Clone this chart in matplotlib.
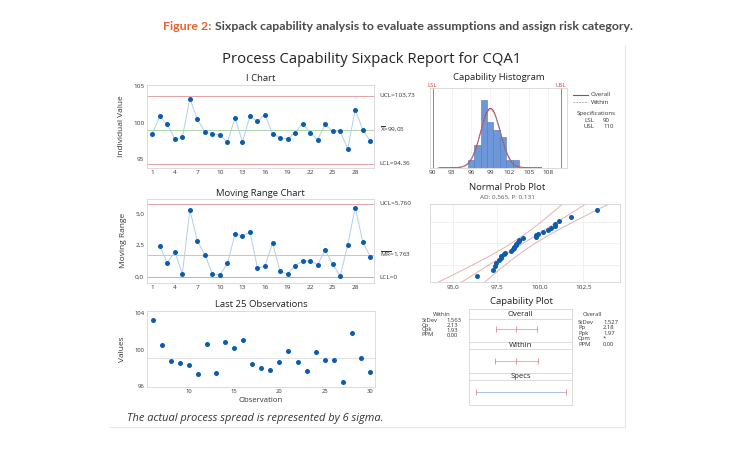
import numpy as np
import matplotlib
matplotlib.use("Agg")
import matplotlib.pyplot as plt
from matplotlib.lines import Line2D
from matplotlib.ticker import FuncFormatter, FixedLocator
from statistics import NormalDist

# ---------------- data ----------------
observations = list(range(1, 31))
individual_values = [98.49, 100.87, 99.77, 97.75, 97.98, 103.30, 100.46, 98.72, 98.49, 98.30,
                     97.29, 100.64, 97.39, 100.87, 100.18, 101.10, 98.44, 97.94, 97.75, 98.62,
                     99.86, 98.62, 97.66, 99.77, 98.81, 98.81, 96.38, 101.79, 99.04, 97.48]
mr_index = list(range(2, 31))
moving_ranges = [2.40, 1.12, 2.00, 0.26, 5.26, 2.84, 1.77, 0.26, 0.18, 1.07,
                 3.36, 3.26, 3.52, 0.70, 0.86, 2.68, 0.47, 0.26, 0.89, 1.28,
                 1.28, 0.96, 2.14, 1.02, 0.08, 2.50, 5.44, 2.79, 1.61]
i_center, i_ucl, i_lcl = 99.05, 103.73, 94.36
i_labels = ["UCL=103,73", r"$\overline{\mathrm{X}}$=99,05", "LCL=94,36"]
mr_center, mr_ucl, mr_lcl = 1.763, 5.760, 0.0
mr_labels = ["UCL=5,760", r"$\overline{\mathrm{MR}}$=1,763", "LCL=0"]
i_xticks = [1, 4, 7, 10, 13, 16, 19, 22, 25, 28]
last25_xticks = [10, 15, 20, 25, 30]
hist_edges = [95.5, 96.5, 97.5, 98.5, 99.5, 100.5, 101.5, 102.5, 103.5]
hist_counts = [1, 3, 9, 6, 5, 4, 1, 1]
hist_xticks = [90, 93, 96, 99, 102, 105, 108]
lsl, usl = 90, 110
sd_within, sd_overall = 1.563, 1.527
n_obs = 30
within_stats = [("StDev", "1,563"), ("Cp", "2,13"), ("Cpk", "1,93"), ("PPM", "0,00")]
overall_stats = [("StDev", "1,527"), ("Pp", "2,18"), ("Ppk", "1,97"), ("Cpm", "*"), ("PPM", "0,00")]
ad_text = "AD: 0,565, P: 0,131"
prob_xticks = [95.0, 97.5, 100.0, 102.5]
prob_grid_pct = [1, 10, 50, 90, 99]

# ---------------- style ----------------
W, H = 750, 450
FONT = "Open Sans"
plt.rcParams["font.family"] = [FONT, "DejaVu Sans"]
plt.rcParams["mathtext.fontset"] = "custom"
plt.rcParams["mathtext.rm"] = FONT
plt.rcParams["mathtext.it"] = FONT + ":italic"
plt.rcParams["mathtext.bf"] = FONT + ":bold"
BLUE = "#0b5cad"
LBLUE = "#b3cde8"
RED = "#e2a3a3"
GREEN = "#acd6ac"
SPINE = "#d6d6d6"
TXT = "#333333"

fig = plt.figure(figsize=(7.5, 4.5), dpi=100)
fig.patch.set_facecolor("white")


def axes_at(x0, y0, x1, y1):
    return fig.add_axes([x0 / W, 1 - y1 / H, (x1 - x0) / W, (y1 - y0) / H])


def ftext(x, y, s, **kw):
    return fig.text(x / W, 1 - y / H, s, **kw)


def style(ax):
    for sp in ax.spines.values():
        sp.set_color(SPINE)
        sp.set_linewidth(0.6)
    ax.tick_params(length=0, labelsize=4.6, labelcolor=TXT, pad=2)


comma1 = FuncFormatter(lambda v, p: f"{v:.1f}".replace(".", ","))

# header
HFS = 8.9
hdr1 = ftext(163, 27, "Figure 2:", color="#e8622a", fontsize=HFS, fontweight="bold",
             family=["Lato", "DejaVu Sans"], va="center", ha="left")
fig.canvas.draw()
bb = hdr1.get_window_extent()
ftext(bb.x1 + 3.5, 27, "Sixpack capability analysis to evaluate assumptions and assign risk category.",
      color="#4a4a4a", fontsize=HFS, fontweight="bold", family=["Lato", "DejaVu Sans"],
      va="center", ha="left")

# panel frame
fig.add_artist(Line2D([625 / W, 625 / W], [1 - 45 / H, 1 - 427 / H], color="#e6e6e6", lw=0.8))
fig.add_artist(Line2D([110 / W, 625 / W], [1 - 427 / H, 1 - 427 / H], color="#e6e6e6", lw=0.8))

ftext(372, 59, "Process Capability Sixpack Report for CQA1", ha="center", va="center",
      fontsize=10.7, color="#222222")

# ---------------- I chart ----------------
ax = axes_at(147, 84.5, 374, 167.7)
style(ax)
ax.plot(observations, individual_values, color=LBLUE, lw=0.7, zorder=2)
ax.plot(observations, individual_values, "o", color=BLUE, ms=3.6, mec="none", zorder=3)
ax.axhline(i_ucl, color=RED, lw=0.7, zorder=1)
ax.axhline(i_lcl, color=RED, lw=0.7, zorder=1)
ax.axhline(i_center, color=GREEN, lw=0.7, zorder=1)
ax.set_xlim(0.3, 30.5)
ax.set_ylim(93.8, 105.25)
ax.set_xticks(i_xticks)
ax.set_yticks([95, 100, 105])
for val, lab in zip([i_ucl, i_center, i_lcl], i_labels):
    ax.text(1.025, val, lab, transform=ax.get_yaxis_transform(), fontsize=4.6, color=TXT, va="center")
ax.set_title("I Chart", fontsize=6.8, color="#222222", pad=2.5)
ax.set_ylabel("Individual Value", fontsize=6, color=TXT, labelpad=6)

# ---------------- MR chart ----------------
ax = axes_at(147, 199, 374, 282.5)
style(ax)
ax.plot(mr_index, moving_ranges, color=LBLUE, lw=0.7, zorder=2)
ax.plot(mr_index, moving_ranges, "o", color=BLUE, ms=3.6, mec="none", zorder=3)
ax.axhline(mr_ucl, color=RED, lw=0.7, zorder=1)
ax.axhline(mr_lcl, color=RED, lw=0.7, zorder=1)
ax.axhline(mr_center, color=GREEN, lw=0.7, zorder=1)
ax.set_xlim(0.3, 30.5)
ax.set_ylim(-0.42, 6.12)
ax.set_xticks(i_xticks)
ax.set_yticks([0, 2.5, 5.0])
ax.yaxis.set_major_formatter(comma1)
for val, lab in zip([mr_ucl, mr_center, mr_lcl], mr_labels):
    ax.text(1.025, val, lab, transform=ax.get_yaxis_transform(), fontsize=4.6, color=TXT, va="center")
ax.set_title("Moving Range Chart", fontsize=6.8, color="#222222", pad=2.5)
ax.set_ylabel("Moving Range", fontsize=6, color=TXT, labelpad=6)

# ---------------- Last 25 ----------------
ax = axes_at(147, 310.7, 375, 386.7)
style(ax)
ax.plot(observations[5:], individual_values[5:], "o", color=BLUE, ms=3.6, mec="none", zorder=3)
ax.axhline(i_center, color="#e2e2e2", lw=0.7, zorder=1)
ax.set_xlim(5.38, 30.55)
ax.set_ylim(95.9, 104.3)
ax.set_xticks(last25_xticks)
ax.set_yticks([96, 100, 104])
ax.tick_params(labelsize=4.2)
ax.set_title("Last 25 Observations", fontsize=6.8, color="#222222", pad=2.5)
ax.set_ylabel("Values", fontsize=6, color=TXT, labelpad=6)
ax.set_xlabel("Observation", fontsize=5.6, color=TXT, labelpad=2)

ftext(127, 418, "The actual process spread is represented by 6 sigma.", fontsize=7.9,
      style="italic", color="#333333", va="center", ha="left")

# ---------------- Capability histogram ----------------
ax = axes_at(430, 88.3, 566.7, 167.7)
style(ax)
ax.bar(hist_edges[:-1], hist_counts, width=np.diff(hist_edges), align="edge",
       color="#6d97d8", edgecolor="#4a78bd", lw=0.4, zorder=2)
xs = np.linspace(91, 107, 300)
ax.plot(xs, [n_obs * NormalDist(i_center, sd_overall).pdf(v) for v in xs], color="#b24050", lw=0.8, zorder=3)
ax.plot(xs, [n_obs * NormalDist(i_center, sd_within).pdf(v) for v in xs], color="#9a9a9a", lw=0.6,
        ls=(0, (2, 1.5)), zorder=3)
ax.axvline(lsl, color="#d66a6a", lw=0.7, zorder=1)
ax.axvline(usl, color="#d66a6a", lw=0.7, zorder=1)
ax.text(lsl, 1.01, "LSL", transform=ax.get_xaxis_transform(), fontsize=4.2, color="#c0392b", ha="center", va="bottom")
ax.text(usl, 1.01, "USL", transform=ax.get_xaxis_transform(), fontsize=4.2, color="#c0392b", ha="center", va="bottom")
ax.set_xlim(89.6, 110.95)
ax.set_ylim(0, 10.5)
ax.set_xticks(hist_xticks)
ax.set_yticks([])
ax.grid(axis="x", color="#eeeeee", lw=0.5, zorder=0)
ax.set_axisbelow(True)
ax.set_title("Capability Histogram", fontsize=6.8, color="#222222", pad=6)

# legend / specs
fig.add_artist(Line2D([573 / W, 588 / W], [1 - 95 / H] * 2, color="#b24050", lw=0.8))
fig.add_artist(Line2D([573 / W, 588 / W], [1 - 102 / H] * 2, color="#9a9a9a", lw=0.6, ls=(0, (2, 1.5))))
ftext(591, 95, "Overall", fontsize=4.4, color=TXT, va="center")
ftext(591, 102, "Within", fontsize=4.4, color=TXT, va="center")
ftext(596, 113, "Specifications", fontsize=4.4, color=TXT, va="center", ha="center")
ftext(584, 120, "LSL", fontsize=4.4, color=TXT, va="center")
ftext(603, 120, f"{lsl}", fontsize=4.4, color=TXT, va="center")
ftext(584, 127, "USL", fontsize=4.4, color=TXT, va="center")
ftext(603, 127, f"{usl}", fontsize=4.4, color=TXT, va="center")

# ---------------- Normal probability plot ----------------
ax = axes_at(430, 204, 620, 282.3)
style(ax)
nd = NormalDist()
sorted_vals = sorted(individual_values)
zq = [nd.inv_cdf((i + 1 - 0.3) / (n_obs + 0.4)) for i in range(n_obs)]
zz = np.linspace(-2.6, 2.6, 100)
fit = i_center + sd_overall * zz
half = 1.96 * sd_overall * np.sqrt((1 + zz ** 2 / 2) / (n_obs / 1.6))
for curve in (fit, fit - half, fit + half):
    ax.plot(curve, zz, color="#e7b0b0", lw=0.7, zorder=2)
ax.plot(sorted_vals, zq, "o", color=BLUE, ms=3.6, mec="none", zorder=3)
ax.set_xlim(93.65, 104.62)
ax.set_ylim(-2.35, 2.35)
ax.set_xticks(prob_xticks)
ax.xaxis.set_major_formatter(comma1)
ax.yaxis.set_major_locator(FixedLocator([nd.inv_cdf(p / 100) for p in prob_grid_pct]))
ax.yaxis.set_major_formatter(FuncFormatter(lambda v, p: ""))
ax.grid(color="#ececec", lw=0.5, zorder=0)
ax.set_axisbelow(True)
ftext(507, 188, "Normal Prob Plot", fontsize=6.8, color="#222222", ha="center", va="center")
ftext(507, 197, ad_text, fontsize=4.6, color="#555555", ha="center", va="center")

# ---------------- Capability plot ----------------
ax = axes_at(469.3, 309.3, 571.7, 405)
style(ax)
ax.set_xticks([])
ax.set_yticks([])
ax.set_xlim(88.6, 111.3)
ax.set_ylim(405, 309.3)
for yy in (319.3, 341.7, 349.3, 372.7, 380):
    ax.axhline(yy, color=SPINE, lw=0.6)
ax.text(100, 314.5, "Overall", fontsize=5.6, color="#222222", ha="center", va="center")
ax.text(100, 345.7, "Within", fontsize=5.6, color="#222222", ha="center", va="center")
ax.text(100, 376.5, "Specs", fontsize=5.6, color="#222222", ha="center", va="center")
for yy, sd in ((329, sd_overall), (361, sd_within)):
    pts = [i_center - 3 * sd, i_center, i_center + 3 * sd]
    ax.plot([pts[0], pts[2]], [yy, yy], color="#a9c4e0", lw=0.7)
    ax.plot(pts, [yy] * 3, "|", color="#e08a8a", ms=5, mew=0.6)
ax.plot([lsl, usl], [392.3, 392.3], color="#a9c4e0", lw=0.7)
ax.plot([lsl, usl], [392.3, 392.3], "|", color="#e08a8a", ms=5, mew=0.6)
ftext(521, 302, "Capability Plot", fontsize=6.8, color="#222222", ha="center", va="center")

ftext(441.5, 315, "Within", fontsize=4.2, color=TXT, ha="center", va="center")
for k, (lab, val) in enumerate(within_stats):
    ftext(421.5, 320 + 5 * k, lab, fontsize=4.2, color=TXT, va="center")
    ftext(446.5, 320 + 5 * k, val, fontsize=4.2, color=TXT, va="center")
ftext(592.5, 315, "Overall", fontsize=4.2, color=TXT, ha="center", va="center")
for k, (lab, val) in enumerate(overall_stats):
    ftext(578, 322 + 5.5 * k, lab, fontsize=4.2, color=TXT, va="center")
    ftext(603, 322 + 5.5 * k, val, fontsize=4.2, color=TXT, va="center")

fig.savefig("out.png", dpi=100, facecolor="white")
